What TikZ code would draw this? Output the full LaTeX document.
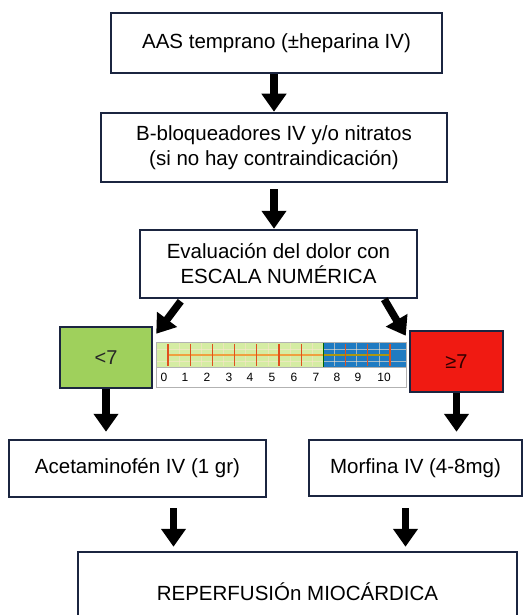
\documentclass[tikz,border=0pt]{standalone}
\usepackage{fontspec}
\setmainfont{Liberation Sans}
\usetikzlibrary{arrows.meta,calc}
\definecolor{navy}{HTML}{1B2540}
\definecolor{boxgreen}{HTML}{9FD05C}
\definecolor{lightgreen}{HTML}{D5ECA3}
\definecolor{scaleblue}{HTML}{1F7BC2}
\definecolor{boxred}{HTML}{F01A12}
\definecolor{tickred}{HTML}{E0501E}
\definecolor{lineorange}{HTML}{F0A040}
\tikzset{
  box/.style={draw=navy, line width=2.5pt, fill=white, align=center, inner sep=0pt,
    font=\fontsize{20.5}{25}\selectfont},
  colbox/.style={draw=navy, line width=2.5pt, inner sep=0pt, font=\fontsize{20}{22}\selectfont},
  arr/.style={line width=7.5pt, black, -{Triangle[length=18pt 0 0, width=24pt 0 0]}},
  num/.style={font=\fontsize{12}{13}\selectfont, inner sep=0pt, text=black}
}
\begin{document}
\begin{tikzpicture}[x=1pt,y=-1pt]
\useasboundingbox (0,0) rectangle (530,615);
\begin{scope}
\clip (0,0) rectangle (530,615);
\node[box, minimum width=331pt, minimum height=60pt] (b1) at (276.5,43) {AAS temprano (±heparina IV)};
\node[box, minimum width=346pt, minimum height=69pt] (b2) at (274,147.5) {B-bloqueadores IV y/o nitratos\\(si no hay contraindicación)};
\node[box, minimum width=277pt, minimum height=68pt] (b3) at (278.5,264) {Evaluación del dolor con\\ESCALA NUMÉRICA};
\node[colbox, fill=boxgreen, minimum width=92pt, minimum height=61pt, text=black!85] (green) at (106,357.5) {<7};
\node[colbox, fill=boxred, minimum width=93pt, minimum height=61pt, text=black!80!red] (red) at (456.5,361.5) {≥7};
\node[box, minimum width=257pt, minimum height=57pt] (acet) at (137.5,468.5) {Acetaminofén IV (1 gr)};
\node[box, minimum width=213pt, minimum height=56pt] (morf) at (415.5,468) {Morfina IV (4-8mg)};
\node[box, minimum width=439pt, minimum height=80pt] (bot) at (297.5,592) {REPERFUSIÓn MIOCÁRDICA};

% numeric scale
\node[draw=gray!60, line width=0.6pt, minimum width=250pt, minimum height=45pt, inner sep=0pt] (scale) at (281,364.5) {};
\fill[lightgreen] (156,342) rectangle (323,367);
\fill[scaleblue] (323,342) rectangle (406,367);
\foreach \i in {0,...,9} {
  \draw[white!70!lineorange, line width=0.4pt, opacity=0.6] ({179+22.2*\i},343) -- ({179+22.2*\i},366);
}
\draw[white!75!lineorange, line width=0.4pt, opacity=0.6] (156,349) -- (406,349);
\draw[white!75!lineorange, line width=0.4pt, opacity=0.6] (156,361) -- (406,361);
\draw[lineorange, line width=1.2pt] (168,355) -- (323,355);
\draw[olive!70!lineorange, line width=1.2pt] (323,355) -- (390,355);
\foreach \i in {0,...,10} {
  \draw[tickred, line width=1.2pt] ({168+22.2*\i},344) -- ({168+22.2*\i},366);
}
\draw[green!40!black, line width=1pt] (323,342) -- (323,367);
\draw[gray!60, line width=0.6pt] (156,367) -- (406,367);
\draw[gray!60, line width=0.6pt] (156,342) rectangle (406,387);
\foreach \n/\x in {0/164,1/185,2/207,3/229,4/250,5/272,6/294,7/316,8/337,9/358,10/384} {
  \node[num] (n\n) at (\x,377.5) {\n};
}

% connector end points
\coordinate (d1s) at ($(b3.south west)+(42,2)$);
\coordinate (d1e) at ($(green.north east)+(3,8)$);
\coordinate (d2s) at ($(b3.south east)+(-34,0)$);
\coordinate (d2e) at ($(red.north west)+(-3,6)$);
\coordinate (a7s) at ($(acet.south)+(36,10)$);
\coordinate (a7e) at (a7s |- bot.north);
\coordinate (a8s) at ($(morf.south)+(-10,11)$);
\coordinate (a8e) at (a8s |- bot.north);

% connectors
\draw[arr] (b1.south -| b2.north) -- (b2.north);
\draw[arr, shorten <=6pt] (b2.south) -- (b3.north -| b2.south);
\draw[arr] (d1s) -- (d1e);
\draw[arr] (d2s) -- (d2e);
\draw[arr, shorten >=7pt] (green.south) -- (green.south |- acet.north);
\draw[arr, shorten >=7pt] (red.south) -- (red.south |- morf.north);
\draw[arr, shorten >=4pt] (a7s) -- (a7e);
\draw[arr, shorten >=4pt] (a8s) -- (a8e);
\end{scope}
\end{tikzpicture}
\end{document}
